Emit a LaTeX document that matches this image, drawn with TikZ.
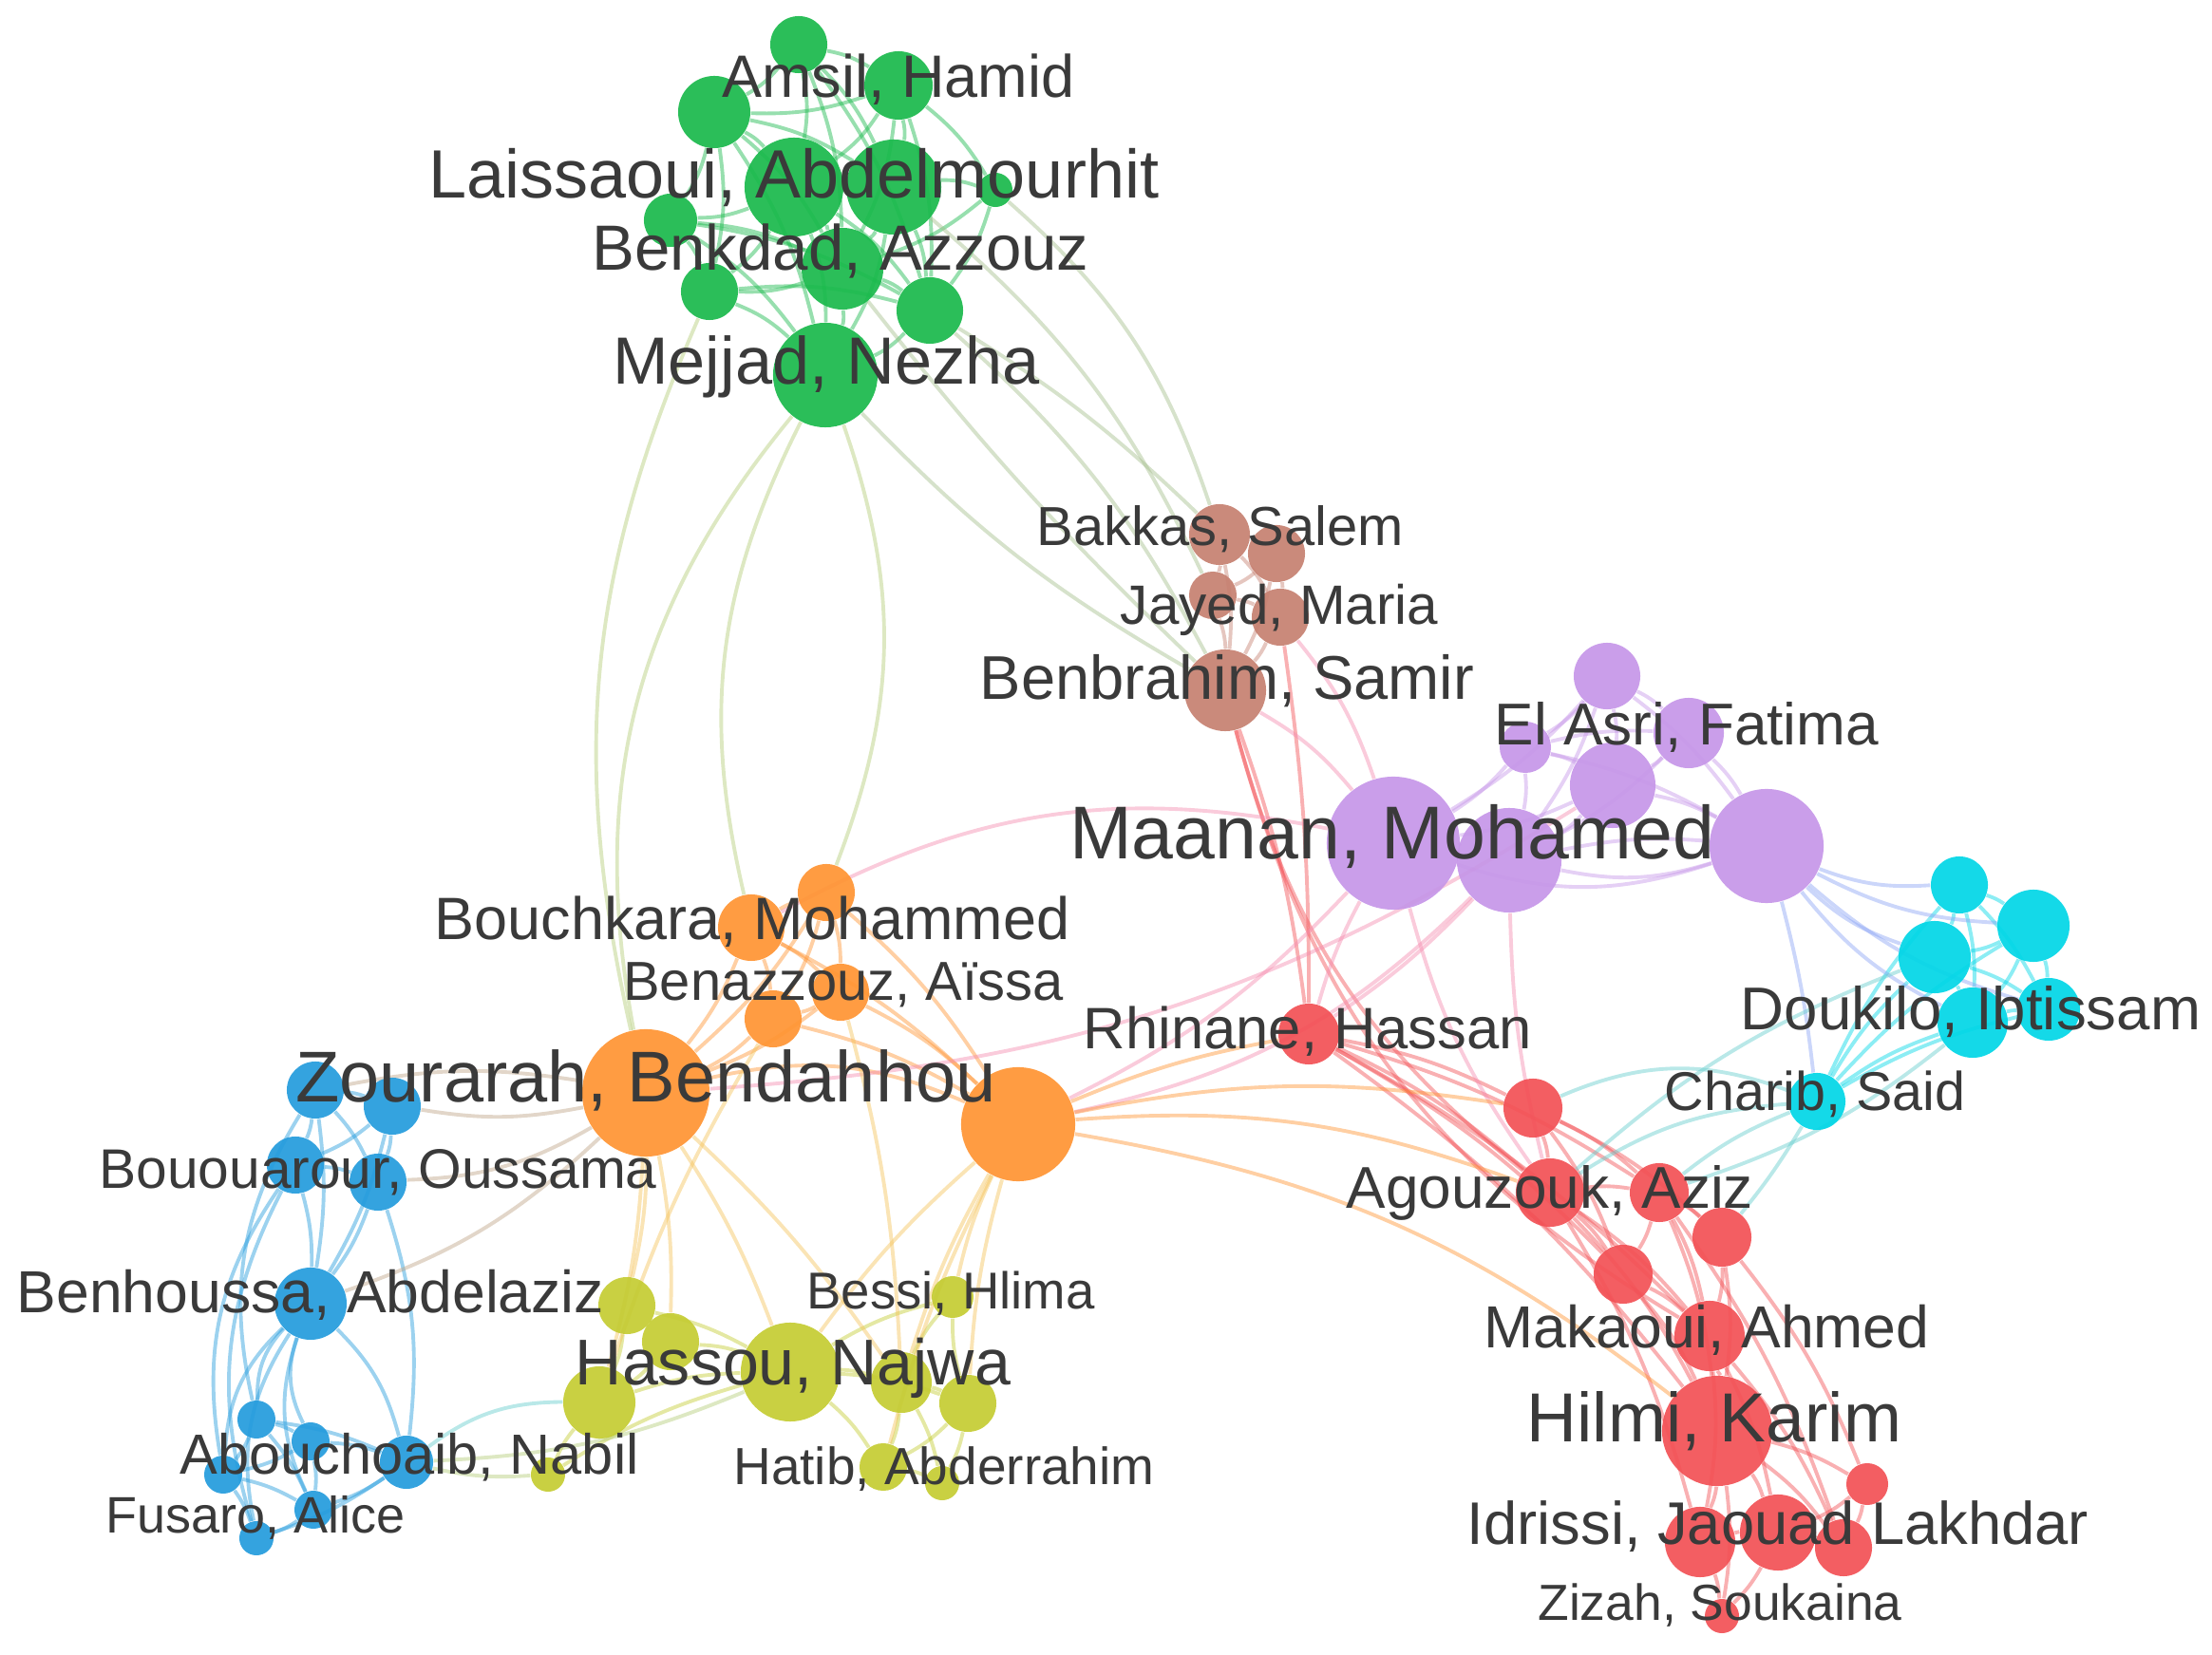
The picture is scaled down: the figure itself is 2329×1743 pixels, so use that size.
\documentclass[tikz,border=0pt]{standalone}
\usepackage{fontspec}
\setmainfont{Liberation Sans}
\pgfdeclarelayer{edges}
\pgfsetlayers{edges,main}
\definecolor{cg}{RGB}{25,185,75}
\definecolor{cb}{RGB}{198,128,112}
\definecolor{cp}{RGB}{198,150,232}
\definecolor{cc}{RGB}{0,214,230}
\definecolor{co}{RGB}{255,148,50}
\definecolor{cu}{RGB}{35,155,220}
\definecolor{cy}{RGB}{196,204,50}
\definecolor{cr}{RGB}{242,80,85}
\definecolor{mgo}{RGB}{180,205,120}
\definecolor{mgb}{RGB}{165,190,140}
\definecolor{mpk}{RGB}{245,140,175}
\definecolor{mbc}{RGB}{140,165,245}
\definecolor{mtl}{RGB}{100,205,205}
\definecolor{mbr}{RGB}{190,165,135}
\definecolor{moy}{RGB}{245,195,90}
\definecolor{lab}{RGB}{58,58,58}
\newcommand\lab[5]{\node[lbl] (#1) at (#2,#3) {\resizebox{#4cm}{!}{\vphantom{Ag}#5}};}
\begin{document}
\begin{tikzpicture}[x=0.01cm,y=-0.01cm,
  nd/.style 2 args={circle,inner sep=0pt,minimum size=#1*0.02cm,fill=#2,fill opacity=0.92,draw=none},
  eg/.style={draw=#1,line width=1.1pt,draw opacity=0.45},
  lbl/.style={text=lab,inner sep=0pt}]
\useasboundingbox (0,0) rectangle (2329,1743);
% green
\node[nd={30}{cg}] (g1) at (841,47) {};
\node[nd={36}{cg}] (g2) at (946,90) {};
\node[nd={38}{cg}] (g3) at (752,118) {};
\node[nd={52}{cg}] (g4) at (836,197) {};
\node[nd={50}{cg}] (g5) at (941,197) {};
\node[nd={18}{cg}] (g6) at (1048,200) {};
\node[nd={28}{cg}] (g7) at (706,232) {};
\node[nd={43}{cg}] (g8) at (887,283) {};
\node[nd={30}{cg}] (g9) at (747,307) {};
\node[nd={35}{cg}] (g10) at (979,327) {};
\node[nd={55}{cg}] (g11) at (869,395) {};
% brown
\node[nd={32}{cb}] (b1) at (1284,563) {};
\node[nd={30}{cb}] (b2) at (1344,583) {};
\node[nd={25}{cb}] (b3) at (1277,627) {};
\node[nd={30}{cb}] (b4) at (1348,650) {};
\node[nd={43}{cb}] (b5) at (1290,727) {};
% purple
\node[nd={35}{cp}] (p1) at (1692,712) {};
\node[nd={27}{cp}] (p2) at (1606,787) {};
\node[nd={37}{cp}] (p3) at (1778,772) {};
\node[nd={45}{cp}] (p4) at (1698,827) {};
\node[nd={70}{cp}] (p5) at (1467,888) {};
\node[nd={55}{cp}] (p6) at (1589,906) {};
\node[nd={60}{cp}] (p7) at (1860,891) {};
% cyan
\node[nd={30}{cc}] (c1) at (2063,932) {};
\node[nd={38}{cc}] (c2) at (2141,975) {};
\node[nd={38}{cc}] (c3) at (2037,1008) {};
\node[nd={37}{cc}] (c4) at (2077,1077) {};
\node[nd={33}{cc}] (c5) at (2157,1063) {};
\node[nd={30}{cc}] (c6) at (1913,1160) {};
% orange
\node[nd={35}{co}] (o1) at (791,977) {};
\node[nd={30}{co}] (o2) at (870,940) {};
\node[nd={30}{co}] (o3) at (885,1045) {};
\node[nd={30}{co}] (o4) at (814,1073) {};
\node[nd={67}{co}] (o5) at (680,1151) {};
\node[nd={60}{co}] (o6) at (1072,1184) {};
% blue
\node[nd={30}{cu}] (u1) at (332,1148) {};
\node[nd={30}{cu}] (u2) at (413,1165) {};
\node[nd={30}{cu}] (u3) at (311,1227) {};
\node[nd={30}{cu}] (u4) at (398,1245) {};
\node[nd={38}{cu}] (u5) at (327,1373) {};
\node[nd={20}{cu}] (u6) at (270,1495) {};
\node[nd={20}{cu}] (u7) at (327,1518) {};
\node[nd={28}{cu}] (u8) at (428,1540) {};
\node[nd={20}{cu}] (u9) at (235,1553) {};
\node[nd={20}{cu}] (u10) at (330,1590) {};
\node[nd={18}{cu}] (u11) at (270,1620) {};
% yellow
\node[nd={30}{cy}] (y1) at (660,1375) {};
\node[nd={30}{cy}] (y2) at (706,1413) {};
\node[nd={38}{cy}] (y3) at (631,1477) {};
\node[nd={52}{cy}] (y4) at (832,1445) {};
\node[nd={18}{cy}] (y5) at (577,1553) {};
\node[nd={32}{cy}] (y6) at (949,1456) {};
\node[nd={30}{cy}] (y7) at (1019,1478) {};
\node[nd={22}{cy}] (y8) at (1003,1366) {};
\node[nd={25}{cy}] (y9) at (930,1545) {};
\node[nd={18}{cy}] (y10) at (992,1562) {};
% red
\node[nd={32}{cr}] (r1) at (1378,1089) {};
\node[nd={31}{cr}] (r2) at (1614,1167) {};
\node[nd={36}{cr}] (r3) at (1632,1256) {};
\node[nd={31}{cr}] (r4) at (1747,1256) {};
\node[nd={31}{cr}] (r5) at (1813,1303) {};
\node[nd={31}{cr}] (r6) at (1709,1342) {};
\node[nd={37}{cr}] (r7) at (1800,1407) {};
\node[nd={58}{cr}] (r8) at (1808,1507) {};
\node[nd={22}{cr}] (r9) at (1966,1563) {};
\node[nd={37}{cr}] (r10) at (1790,1624) {};
\node[nd={40}{cr}] (r11) at (1872,1614) {};
\node[nd={30}{cr}] (r12) at (1941,1630) {};
\node[nd={18}{cr}] (r13) at (1813,1702) {};

\begin{pgfonlayer}{edges}
\foreach \a/\b in {g1/g2,g1/g3,g1/g4,g1/g5,g1/g8,g1/g10,g2/g3,g2/g4,g2/g5,g2/g6,g2/g8,g2/g10,g3/g4,g3/g5,g3/g7,g3/g8,g3/g9,g3/g11,g4/g5,g4/g7,g4/g8,g4/g9,g4/g10,g4/g11,g5/g6,g5/g8,g5/g10,g5/g11,g6/g10,g6/g8,g7/g8,g7/g9,g7/g11,g8/g9,g8/g10,g8/g11,g9/g11,g10/g11,g9/g10,g7/g10}
  \draw[eg=cg] (\a) to[bend left=10] (\b);
\foreach \a/\b in {b1/b2,b1/b3,b1/b4,b1/b5,b2/b3,b2/b4,b2/b5,b3/b4,b3/b5,b4/b5}
  \draw[eg=cb] (\a) to[bend left=8] (\b);
\foreach \a/\b in {p1/p2,p1/p3,p1/p4,p1/p6,p1/p5,p2/p3,p2/p4,p2/p5,p2/p6,p3/p4,p3/p7,p3/p6,p4/p5,p4/p6,p4/p7,p5/p6,p6/p7,p1/p7,p2/p7}
  \draw[eg=cp] (\a) to[bend left=8] (\b);
\draw[eg=cp] (p5) to[bend right=18] (p7);
\draw[eg=cp] (p6) to[bend right=14] (p7);
\foreach \a/\b in {c1/c2,c1/c3,c1/c4,c1/c5,c2/c3,c2/c4,c2/c5,c3/c4,c3/c5,c4/c5,c6/c3,c6/c4,c6/c5,c6/c2,c6/c1}
  \draw[eg=cc] (\a) to[bend left=8] (\b);
\foreach \a/\b in {o1/o2,o1/o3,o1/o4,o1/o5,o1/o6,o2/o3,o2/o4,o2/o5,o2/o6,o3/o4,o3/o5,o3/o6,o4/o5,o4/o6}
  \draw[eg=co] (\a) to[bend left=8] (\b);
\draw[eg=co] (o5) to[bend left=18] (o6);
\foreach \a/\b in {u1/u2,u1/u3,u1/u4,u2/u3,u2/u4,u3/u4,u3/u5,u4/u5,u1/u5,u2/u5,u6/u7,u6/u9,u7/u8,u7/u10,u8/u10,u9/u10,u9/u11,u10/u11,u6/u8,u7/u9,u8/u11,u6/u10}
  \draw[eg=cu] (\a) to[bend left=8] (\b);
\foreach \a/\b in {u5/u6,u5/u7,u5/u9,u5/u10,u5/u11,u3/u9,u3/u11,u1/u6}
  \draw[eg=cu] (\a) to[bend right=22] (\b);
\draw[eg=cu] (u5) to[bend left=15] (u8);
\draw[eg=cu] (u4) to[bend left=12] (u8);
\foreach \a/\b in {y1/y2,y1/y3,y2/y3,y2/y4,y3/y4,y1/y4,y4/y6,y4/y7,y4/y8,y4/y9,y6/y7,y6/y8,y6/y9,y7/y8,y7/y9,y9/y10,y6/y10,y7/y10,y5/y4,y5/y3}
  \draw[eg=cy] (\a) to[bend left=8] (\b);
\foreach \a/\b in {r1/r2,r1/r3,r1/r4,r1/r6,r1/r7,r1/r8,r2/r3,r2/r4,r2/r5,r2/r6,r3/r4,r3/r6,r3/r7,r3/r8,r4/r5,r4/r6,r4/r7,r4/r8,r5/r7,r5/r8,r6/r7,r6/r8,r7/r8,r8/r9,r8/r10,r8/r11,r8/r12,r8/r13,r10/r11,r11/r12,r10/r13,r11/r13,r7/r11,r5/r9,r9/r12,r9/r11,r4/r12,r3/r10,r7/r12,r7/r10}
  \draw[eg=cr] (\a) to[bend left=8] (\b);
% green - orange
\draw[eg=mgo] (g11) to[bend right=25] (o5);
\draw[eg=mgo] (g9) to[bend right=18] (o5);
\draw[eg=mgo] (g11) to[bend right=20] (o1);
\draw[eg=mgo] (g11) to[bend left=20] (o2);
% green - brown
\draw[eg=mgb] (g10) to[bend left=10] (b5);
\draw[eg=mgb] (g11) to[bend right=8] (b5);
\draw[eg=mgb] (g6) to[bend left=15] (b1);
\draw[eg=mgb] (g5) to[bend left=12] (b3);
\draw[eg=mgb] (g10) to[bend left=6] (b1);
\draw[eg=mgb] (g8) to[bend right=4] (b5);
% brown - red / purple
\draw[eg=cr] (b5) to[bend left=6] (r1);
\draw[eg=cr] (b5) to[bend right=18] (r3);
\draw[eg=cr] (b5) to[bend right=22] (r7);
\draw[eg=cr] (b4) to[bend left=4] (r1);
\draw[eg=mpk] (b5) to[bend left=10] (p5);
\draw[eg=mpk] (b4) to[bend left=10] (p5);
% purple - cyan
\foreach \t in {c1,c2,c3,c4,c5}
  \draw[eg=mbc] (p7) to[bend right=12] (\t);
\draw[eg=mbc] (p7) to[bend left=4] (c6);
% purple - red / orange
\draw[eg=mpk] (p5) to[bend right=6] (r1);
\draw[eg=mpk] (p6) to[bend left=6] (r1);
\draw[eg=mpk] (p5) to[bend right=10] (r3);
\draw[eg=mpk] (p6) to[bend right=6] (r3);
\draw[eg=mpk] (p5) to[bend left=10] (o6);
\draw[eg=mpk] (p6) to[bend left=16] (o6);
\draw[eg=mpk] (p5) to[bend right=20] (o1);
\draw[eg=mpk] (p4) to[bend left=14] (o5);
% cyan - red
\draw[eg=mtl] (c6) to[bend right=22] (r2);
\draw[eg=mtl] (c6) to[bend right=14] (r3);
\draw[eg=mtl] (c6) to[bend right=8] (r4);
\draw[eg=mtl] (c6) to[bend left=4] (r5);
\draw[eg=mtl] (c4) to[bend left=10] (r4);
\draw[eg=mtl] (c3) to[bend right=10] (r3);
% orange - red
\draw[eg=co] (o6) to[bend left=6] (r1);
\draw[eg=co] (o6) to[bend left=12] (r3);
\draw[eg=co] (o6) to[bend left=14] (r8);
\draw[eg=co] (o6) to[bend left=10] (r2);
% orange - yellow
\foreach \t in {y1,y2,y3,y4,y6}
  \draw[eg=moy] (o5) to[bend left=6] (\t);
\foreach \t in {y4,y6,y7,y8,y9}
  \draw[eg=moy] (o6) to[bend right=6] (\t);
\draw[eg=moy] (o3) to[bend left=6] (y6);
\draw[eg=moy] (o4) to[bend right=6] (y3);
% orange - blue
\draw[eg=mbr] (o5) to[bend left=10] (u2);
\draw[eg=mbr] (o5) to[bend left=14] (u4);
\draw[eg=mbr] (o5) to[bend right=10] (u1);
\draw[eg=mbr] (o5) to[bend left=12] (u5);
% blue - yellow
\draw[eg=mtl] (u8) to[bend left=18] (y3);
\draw[eg=mgo] (u8) to[bend right=10] (y4);
\draw[eg=mgo] (u8) to[bend right=8] (y5);
\end{pgfonlayer}

% labels
\lab{lAmsil}{946}{86}{3.71}{Amsil, Hamid}
\lab{lLaiss}{836}{190}{7.68}{Laissaoui, Abdelmourhit}
\lab{lBenk}{885}{267}{5.23}{Benkdad, Azzouz}
\lab{lMej}{870}{386}{4.49}{Mejjad, Nezha}
\lab{lBak}{1285}{560}{3.86}{Bakkas, Salem}
\lab{lJay}{1347}{642}{3.34}{Jayed, Maria}
\lab{lBenb}{1292}{720}{5.20}{Benbrahim, Samir}
\lab{lElAsri}{1776}{768}{4.04}{El Asri, Fatima}
\lab{lMaanan}{1466}{884}{6.79}{Maanan, Mohamed}
\lab{lDouk}{2075}{1068}{4.84}{Doukilo, Ibtissam}
\lab{lCharib}{1911}{1155}{3.16}{Charib, Said}
\lab{lBouch}{792}{973}{6.68}{Bouchkara, Mohammed}
\lab{lBenaz}{888}{1040}{4.63}{Benazzouz, Aïssa}
\lab{lRhin}{1377}{1089}{4.72}{Rhinane, Hassan}
\lab{lZour}{680}{1141}{7.37}{Zourarah, Bendahhou}
\lab{lBouou}{398}{1237}{5.87}{Bououarour, Oussama}
\lab{lAgou}{1632}{1256}{4.28}{Agouzouk, Aziz}
\lab{lBenh}{327}{1366}{6.18}{Benhoussa, Abdelaziz}
\lab{lBessi}{1001}{1364}{3.03}{Bessi, Hlima}
\lab{lMak}{1797}{1403}{4.69}{Makaoui, Ahmed}
\lab{lHassou}{835}{1441}{4.58}{Hassou, Najwa}
\lab{lHilmi}{1805}{1500}{3.94}{Hilmi, Karim}
\lab{lAbou}{431}{1537}{4.83}{Abouchoaib, Nabil}
\lab{lHatib}{994}{1549}{4.43}{Hatib, Abderrahim}
\lab{lFusaro}{269}{1601}{3.15}{Fusaro, Alice}
\lab{lIdrissi}{1872}{1610}{6.54}{Idrissi, Jaouad Lakhdar}
\lab{lZizah}{1811}{1693}{3.83}{Zizah, Soukaina}
\end{tikzpicture}
\end{document}
